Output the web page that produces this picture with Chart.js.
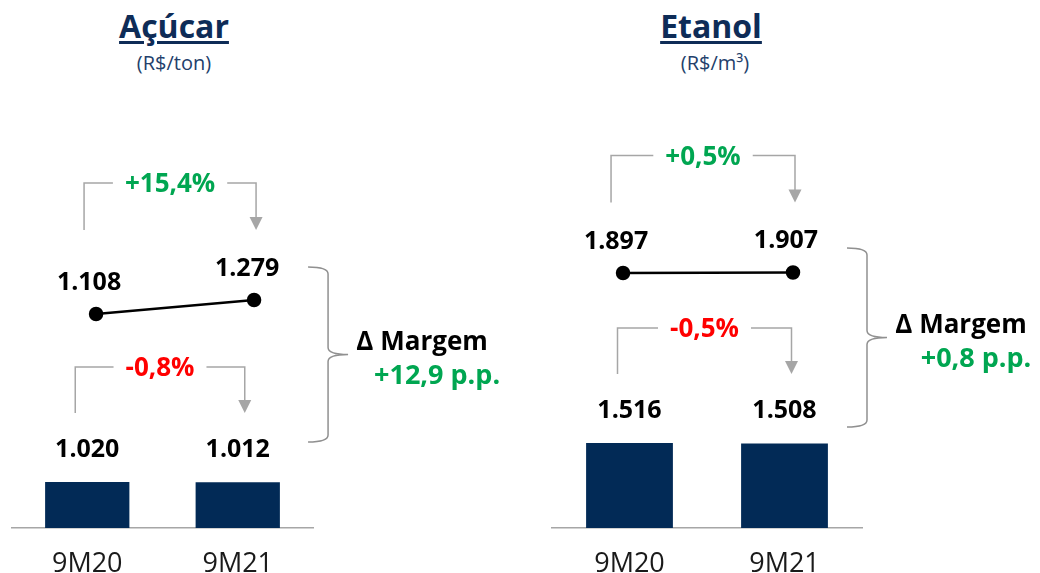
<!DOCTYPE html>
<html lang="pt-BR">
<head>
<meta charset="utf-8">
<title>Açúcar e Etanol</title>
<script src="https://cdn.jsdelivr.net/npm/chart.js@4.4.1/dist/chart.umd.min.js"></script>
<style>
  html, body { margin: 0; padding: 0; background: #fff; }
  body { width: 1040px; height: 573px; position: relative; overflow: hidden; font-family: "Open Sans", sans-serif; }
  .painel { position: absolute; top: 0; height: 573px; }
  .titulo { position: absolute; top: 10px; transform: translateX(-50%); font-size: 32px; line-height: 32px; font-weight: 700;
            color: #0e2c57; text-decoration: underline; text-decoration-thickness: 3px; text-underline-offset: 3px; white-space: nowrap; }
  .unidade { position: absolute; top: 53px; transform: translateX(-50%); font-size: 20px; line-height: 20px; color: #23406b; white-space: nowrap; }
</style>
</head>
<body>
<div class="titulo" style="left:174px">Açúcar</div>
<div class="unidade" style="left:174px">(R$/ton)</div>
<div class="titulo" style="left:711px">Etanol</div>
<div class="unidade" style="left:715px">(R$/m³)</div>

<canvas id="acucar" class="painel" style="left:0" width="545" height="573"></canvas>
<canvas id="etanol" class="painel" style="left:520px" width="520" height="573"></canvas>

<script>
// dados
const categorias = ['9M20', '9M21'];
// Açúcar (R$/ton)
const acucarPreco = [1108, 1279];
const acucarCusto = [1020, 1012];
// Etanol (R$/m³)
const etanolPreco = [1897, 1907];
const etanolCusto = [1516, 1508];

const AZUL = '#022a56';
const VERDE = '#00a651';
const VERMELHO = '#ff0000';
const CINZA = '#a6a6a6';
const FONTE = '"Open Sans", sans-serif';

const fmt = v => String(v).replace(/\B(?=(\d{3})+(?!\d))/g, '.');
const sinal = (p, dec, suf) => (p >= 0 ? '+' : '-') + Math.abs(p).toFixed(dec).replace('.', ',') + suf;
const variacao = (arr) => sinal((arr[1] / arr[0] - 1) * 100, 1, '%');
const margemPP = (preco, custo) => {
  const m = preco.map((p, i) => (p - custo[i]) / p * 100);
  return sinal(m[1] - m[0], 1, ' p.p.');
};

// texto centrado verticalmente pela altura das maiúsculas
function texto(ctx, str, x, y, size, weight, cor) {
  ctx.save();
  ctx.font = `${weight} ${size}px ${FONTE}`;
  ctx.fillStyle = cor;
  ctx.textAlign = 'center';
  ctx.textBaseline = 'alphabetic';
  ctx.fillText(str, x, y + size * 0.357);
  ctx.restore();
}

// colchete com seta e variação no meio
function colchete(ctx, xa, xb, y, desce, str, cor) {
  ctx.save();
  ctx.font = `700 26px ${FONTE}`;
  const w = ctx.measureText(str).width;
  const xm = (xa + xb) / 2;
  ctx.strokeStyle = CINZA;
  ctx.lineWidth = 1.5;
  ctx.beginPath();
  ctx.moveTo(xa, y + desce);
  ctx.lineTo(xa, y);
  ctx.lineTo(xm - w / 2 - 12, y);
  ctx.moveTo(xm + w / 2 + 12, y);
  ctx.lineTo(xb, y);
  ctx.lineTo(xb, y + desce - 12);
  ctx.stroke();
  ctx.fillStyle = CINZA;
  ctx.beginPath();
  ctx.moveTo(xb - 6.5, y + desce - 13);
  ctx.lineTo(xb + 6.5, y + desce - 13);
  ctx.lineTo(xb, y + desce);
  ctx.closePath();
  ctx.fill();
  ctx.restore();
  texto(ctx, str, xm, y, 26, 700, cor);
}

// chave "}" ligando preço e custo
function chave(ctx, x0, topo, base) {
  const x1 = x0 + 20, ponta = x1 + 20, meio = (topo + base) / 2, r = 7;
  ctx.save();
  ctx.strokeStyle = '#909090';
  ctx.lineWidth = 1.5;
  ctx.beginPath();
  ctx.moveTo(x0, topo);
  ctx.quadraticCurveTo(x1, topo, x1, topo + r);
  ctx.lineTo(x1, meio - r);
  ctx.quadraticCurveTo(x1, meio, ponta, meio);
  ctx.quadraticCurveTo(x1, meio, x1, meio + r);
  ctx.lineTo(x1, base - r);
  ctx.quadraticCurveTo(x1, base, x0, base);
  ctx.stroke();
  ctx.restore();
  return { x: ponta, y: meio };
}

const anotacoes = {
  id: 'anotacoes',
  afterDatasetsDraw(chart, args, o) {
    const ctx = chart.ctx;
    const barras = chart.getDatasetMeta(0).data;
    const pontos = chart.getDatasetMeta(1).data;

    // rótulos de valor
    pontos.forEach((p, i) => texto(ctx, fmt(o.preco[i]), p.x - 7, p.y - 33, 25, 700, '#000'));
    barras.forEach((b, i) => texto(ctx, fmt(o.custo[i]), b.x, b.y - 34, 25, 700, '#000'));

    // variação do preço
    const yP = Math.min(pontos[0].y, pontos[1].y) - 117;
    colchete(ctx, pontos[0].x - 12, pontos[1].x + 2, yP, 47, variacao(o.preco), VERDE);

    // variação do custo
    const yC = Math.min(barras[0].y, barras[1].y) - 115;
    colchete(ctx, barras[0].x - 12, barras[1].x + 7, yC, 46, variacao(o.custo),
      o.custo[1] >= o.custo[0] ? VERDE : VERMELHO);

    // margem
    const t = chave(ctx, pontos[1].x + 54, o.chave[0], o.chave[1]);
    texto(ctx, 'Δ Margem', t.x + 74, t.y - 14, 26, 700, '#000');
    texto(ctx, margemPP(o.preco, o.custo), t.x + 89, t.y + 20, 27, 700, VERDE);
  }
};

function grafico(id, preco, custo, cfg) {
  return new Chart(document.getElementById(id), {
    type: 'bar',
    data: {
      labels: categorias,
      datasets: [
        {
          label: 'Custo',
          data: custo,
          backgroundColor: AZUL,
          barPercentage: 0.56,
          categoryPercentage: 1,
          grouped: false,
          xAxisID: 'x',
          yAxisID: 'y',
          order: 2
        },
        {
          type: 'line',
          label: 'Preço',
          data: preco.map((v, i) => ({ x: i, y: v })),
          borderColor: '#000',
          borderWidth: 2.5,
          pointRadius: 6,
          pointBackgroundColor: '#000',
          pointBorderColor: '#000',
          xAxisID: 'xl',
          yAxisID: 'y2',
          clip: false,
          order: 1
        }
      ]
    },
    options: {
      responsive: false,
      animation: false,
      events: [],
      layout: { padding: { left: cfg.esq, right: cfg.dir, top: 100, bottom: 0 } },
      plugins: {
        legend: { display: false },
        tooltip: { enabled: false },
        anotacoes: { preco, custo, chave: cfg.chave }
      },
      scales: {
        x: {
          type: 'category',
          offset: true,
          grid: { display: false, drawTicks: false },
          border: { display: true, color: CINZA, width: 1.5 },
          ticks: { color: '#1a1a1a', font: { family: FONTE, size: 27 }, padding: 20 },
          afterFit: s => { s.height = 45; }
        },
        xl: { type: 'linear', display: false, offset: false, min: cfg.xl[0], max: cfg.xl[1] },
        y: { display: false, min: 0, max: cfg.y },
        y2: { display: false, min: cfg.y2[0], max: cfg.y2[1] }
      }
    },
    plugins: [anotacoes]
  });
}

grafico('acucar', acucarPreco, acucarCusto, {
  esq: 12, dir: 232, xl: [-0.532, 1.373], y: 9490, y2: [-1506, 3722], chave: [267, 442]
});
grafico('etanol', etanolPreco, etanolCusto, {
  esq: 32, dir: 178, xl: [-0.418, 1.406], y: 7634, y2: [-3203, 5357], chave: [248, 427]
});
</script>
</body>
</html>
